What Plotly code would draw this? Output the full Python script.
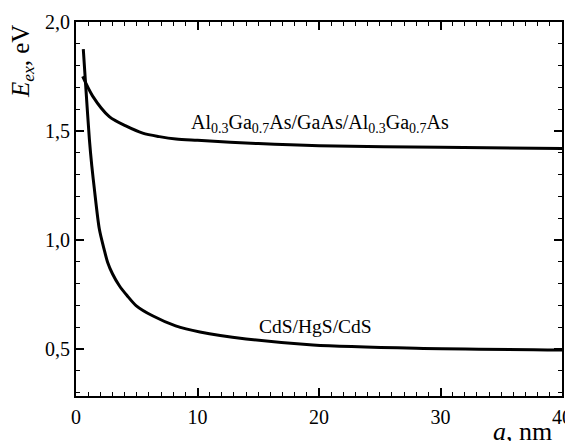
import plotly.graph_objects as go

# Data
a_cds = [0.6, 0.82, 1.1, 1.3, 1.51, 1.92, 2.3, 2.6, 3.0, 3.57, 4.2, 4.94, 6.3, 8.2, 10.2, 14, 19.5, 28, 40]
e_cds = [1.876, 1.69, 1.463, 1.34, 1.234, 1.05, 0.96, 0.898, 0.845, 0.79, 0.745, 0.699, 0.652, 0.606, 0.578, 0.546, 0.518, 0.503, 0.495]

a_al = [0.55, 1.37, 2.74, 4.1, 5.49, 6.86, 8.23, 10, 15, 20, 30, 40]
e_al = [1.75, 1.66, 1.566, 1.523, 1.49, 1.474, 1.463, 1.457, 1.442, 1.432, 1.425, 1.42]

x_ticks = [0, 10, 20, 30, 40]
y_ticks = [0.5, 1.0, 1.5, 2.0]

label_al = "Al<sub>0.3</sub>Ga<sub>0.7</sub>As/GaAs/Al<sub>0.3</sub>Ga<sub>0.7</sub>As"
label_cds = "CdS/HgS/CdS"

FONT = "Liberation Serif, Times New Roman, serif"

fig = go.Figure()
fig.add_trace(go.Scatter(x=a_cds, y=e_cds, mode="lines",
                         line=dict(color="black", width=3, shape="spline", smoothing=0.8),
                         showlegend=False))
fig.add_trace(go.Scatter(x=a_al, y=e_al, mode="lines",
                         line=dict(color="black", width=3, shape="spline", smoothing=0.8),
                         showlegend=False))

axis_common = dict(
    showgrid=False, zeroline=False, automargin=False,
    showline=True, linecolor="black", linewidth=2, mirror="allticks",
    ticks="inside", ticklen=8, tickwidth=1.5, tickcolor="black",
    tickfont=dict(family=FONT, size=20, color="black"),
)

fig.update_xaxes(range=[0, 40], tickvals=x_ticks, ticklabelstandoff=2,
                 minor=dict(ticks="inside", ticklen=4, tickwidth=1.2, tickcolor="black", dtick=1, tick0=0),
                 **axis_common)
fig.update_yaxes(range=[0.284, 2.0], tickvals=y_ticks, tickformat=".1f",
                 minor=dict(ticks="inside", ticklen=4, tickwidth=1.2, tickcolor="black", dtick=0.1, tick0=0),
                 **axis_common)

fig.add_annotation(x=20.1, y=1.535, xref="x", yref="y", text=label_al, showarrow=False,
                   font=dict(family=FONT, size=20, color="black"))
fig.add_annotation(x=19.75, y=0.605, xref="x", yref="y", text=label_cds, showarrow=False,
                   font=dict(family=FONT, size=19.5, color="black"))

fig.add_annotation(x=-0.111, y=0.893, xref="paper", yref="paper", xanchor="center", yanchor="middle",
                   text="<i>E</i><sub><i>ex</i></sub>, eV", showarrow=False, textangle=-90,
                   font=dict(family=FONT, size=25, color="black"))
fig.add_annotation(x=0.984, y=-0.094, xref="paper", yref="paper", xanchor="right", yanchor="middle",
                   text="<i>a</i>, nm", showarrow=False,
                   font=dict(family=FONT, size=26, color="black"))

# The page body adds an 8 px margin, so the figure is 8 px smaller on each axis
fig.update_layout(
    width=565, height=433,
    margin=dict(l=68, r=11, t=14, b=45),
    paper_bgcolor="white", plot_bgcolor="white",
    separators=",.",
    font=dict(family=FONT, color="black"),
)

fig.write_html("out.html")
